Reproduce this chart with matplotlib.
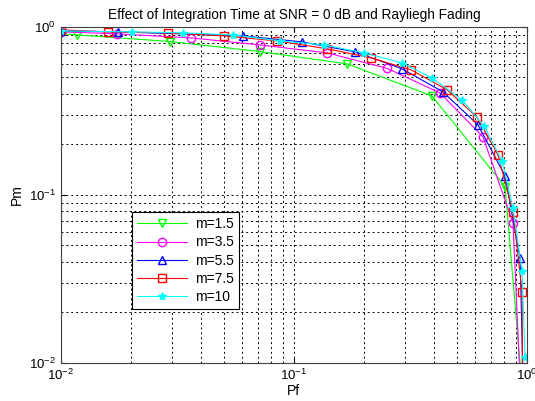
import matplotlib
matplotlib.use('Agg')
import matplotlib.pyplot as plt

plt.rcParams['font.family'] = ['Liberation Sans', 'DejaVu Sans']
plt.rcParams['mathtext.fontset'] = 'custom'
plt.rcParams['mathtext.rm'] = 'Liberation Sans'

# values (Pf, Pm)
pf_m15 = [0.01, 0.0117, 0.0294, 0.0714, 0.169, 0.391, 0.805, 0.94]
pm_m15 = [0.91, 0.896, 0.818, 0.713, 0.602, 0.388, 0.112, 0.009]

pf_m35 = [0.01, 0.0174, 0.0361, 0.0714, 0.139, 0.251, 0.423, 0.648, 0.871, 0.93]
pm_m35 = [0.934, 0.909, 0.860, 0.781, 0.700, 0.566, 0.405, 0.221, 0.068, 0.009]

pf_m55 = [0.01, 0.0176, 0.0604, 0.108, 0.183, 0.291, 0.436, 0.616, 0.805, 0.934, 0.96]
pm_m55 = [0.946, 0.934, 0.884, 0.814, 0.710, 0.563, 0.410, 0.261, 0.130, 0.042, 0.009]

pf_m75 = [0.01, 0.0159, 0.0288, 0.0501, 0.0846, 0.139, 0.214, 0.318, 0.454, 0.610, 0.751, 0.871, 0.953, 0.955]
pm_m75 = [0.96, 0.934, 0.921, 0.884, 0.825, 0.740, 0.654, 0.555, 0.422, 0.291, 0.173, 0.079, 0.0265, 0.009]

pf_m10 = [0.01, 0.0202, 0.0334, 0.0547, 0.0871, 0.135, 0.200, 0.291, 0.391, 0.526, 0.654, 0.782, 0.871, 0.953, 0.98]
pm_m10 = [0.946, 0.934, 0.921, 0.896, 0.825, 0.781, 0.700, 0.610, 0.497, 0.368, 0.257, 0.159, 0.083, 0.035, 0.0109]

labels = ['m=1.5', 'm=3.5', 'm=5.5', 'm=7.5', 'm=10']

fig = plt.figure(figsize=(5.35, 4.01), dpi=100)
ax = fig.add_axes([0.114, 0.095, 0.871, 0.838])

ax.loglog(pf_m15, pm_m15, color='#00ff00', marker='v', mfc='none', ms=6, lw=0.8, label=labels[0])
ax.loglog(pf_m35, pm_m35, color='#ff00ff', marker='o', mfc='none', ms=6, lw=0.8, label=labels[1])
ax.loglog(pf_m55, pm_m55, color='#0000ff', marker='^', mfc='none', ms=6, lw=0.8, label=labels[2])
ax.loglog(pf_m75, pm_m75, color='#ff0000', marker='s', mfc='none', ms=6, lw=0.8, label=labels[3])
ax.loglog(pf_m10, pm_m10, color='#00ffff', marker='*', ms=6, lw=0.8, label=labels[4])

ax.set_xlim(1e-2, 1)
ax.set_ylim(1e-2, 1)
ax.grid(True, which='both', color='black', linestyle=(0, (2, 3)), linewidth=0.7)
ax.tick_params(which='both', direction='in', labelsize=9.5, top=True, right=True)
ax.tick_params(which='minor', length=0)
for s in ax.spines.values():
    s.set_color('#404040')

ax.set_title('Effect of Integration Time at SNR = 0 dB and Rayliegh Fading', fontsize=9.8)
ax.set_xlabel('Pf', fontsize=10, labelpad=1)
ax.set_ylabel('Pm', fontsize=10)

leg = ax.legend(loc='lower left', bbox_to_anchor=(0.152, 0.161), borderaxespad=0, fontsize=10,
                fancybox=False, edgecolor='black', framealpha=1,
                handlelength=3.6, borderpad=0.35, labelspacing=0.3, handletextpad=0.6)
leg.get_frame().set_linewidth(0.8)

fig.savefig('out.png', dpi=100)
